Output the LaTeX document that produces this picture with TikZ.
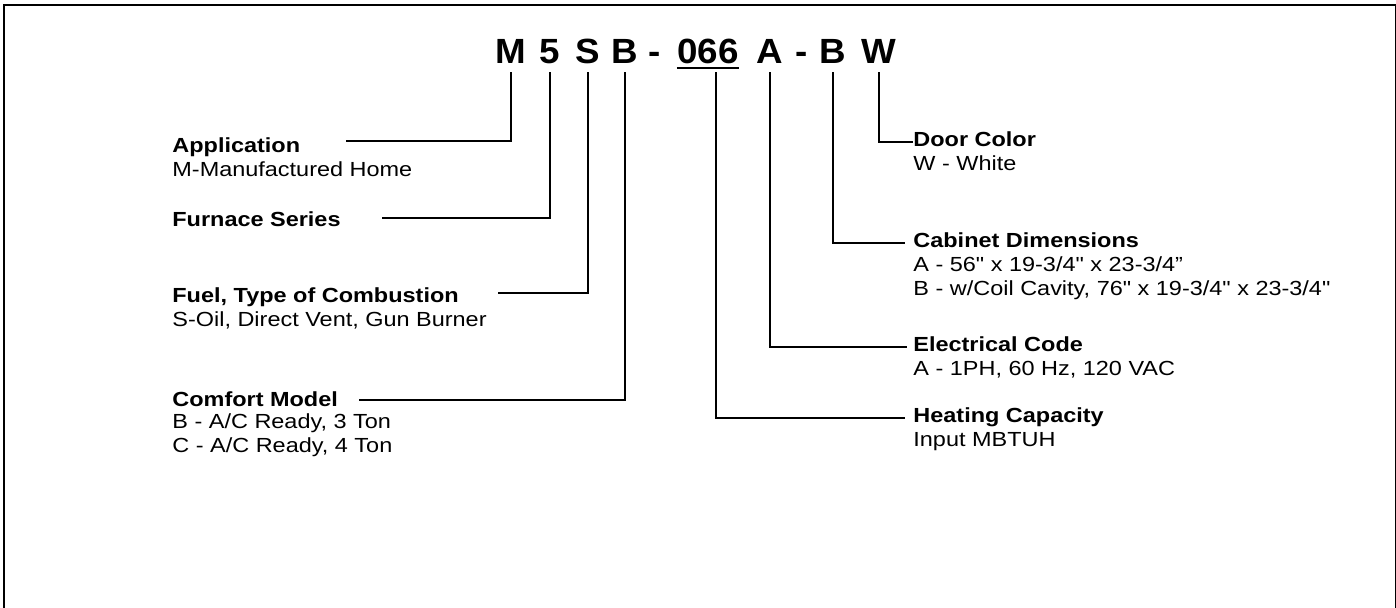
\documentclass[tikz,border=0pt]{standalone}
\usepackage{fontspec}
\setmainfont{Liberation Sans}[FakeStretch=1.15, Ligatures=TeXOff]
\newfontfamily\titlefont{Liberation Sans}[FakeStretch=1.05]
\usetikzlibrary{calc, positioning}
\tikzset{
    code/.style={font=\titlefont\bfseries\fontsize{17.5}{20}\selectfont, inner sep=0pt, text depth=0pt, outer ysep=4.5pt, anchor=base},
    head/.style={font=\bfseries\fontsize{10.2}{12}\selectfont, inner sep=0pt, text height=6pt, text depth=2pt},
    body/.style={font=\fontsize{10.2}{12}\selectfont, inner sep=0pt, align=left, anchor=base west},
    lead/.style={line width=1pt},
}
\begin{document}
\begin{tikzpicture}[x=0.5pt, y=-0.5pt]
    \useasboundingbox (0,0) rectangle (1396,607);
    \draw[line width=1pt] (4,615) -- (4,5) -- (1395.5,5) -- (1395.5,615);
    % model number
    \def \base {63}
    \node[code] (cM) at (511,\base) {M};
    \node[code] (c5) at (550,\base) {5};
    \node[code] (cS) at (588,\base) {S};
    \node[code] (cB) at (625,\base) {B};
    \node[code] (d1) at (655,\base) {-};
    \node[code] (c066) at (708,\base) {066};
    \node[code] (cA) at (770,\base) {A};
    \node[code] (d2) at (802,\base) {-};
    \node[code] (cC) at (833,\base) {B};
    \node[code] (cW) at (879,\base) {W};
    \draw[line width=0.9pt] ($(c066.base west)+(0,5)$) -- ($(c066.base east)+(0,5)$);
    \coordinate (c066b) at (716,72);
    % left side
    \node[head, anchor=base west] (app) at (172,152) {Application};
    \node[body] (appB) at ($(app.base west)+(0,24)$) {M-Manufactured Home};
    \node[head, anchor=base west] (ser) at (172,226) {Furnace Series};
    \node[head, anchor=base west] (fuel) at (172,302) {Fuel, Type of Combustion};
    \node[body] (fuelB) at ($(fuel.base west)+(0,24)$) {S-Oil, Direct Vent, Gun Burner};
    \node[head, anchor=base west] (comf) at (172,406) {Comfort Model};
    \node[body] (comfB) at ($(comf.base west)+(0,46)$) {B - A/C Ready, 3 Ton\\C - A/C Ready, 4 Ton};
    \coordinate (appEnd) at (346,141);
    \coordinate (serEnd) at (382,218);
    \coordinate (fuelEnd) at (498,293);
    \coordinate (comfEnd) at (359,400);
    % right side
    \node[head, anchor=west] (door) at (913,142) {Door Color};
    \node[body] (doorB) at ($(door.base west)+(0,24)$) {W - White};
    \node[head, anchor=west] (cab) at (913,243) {Cabinet Dimensions};
    \node[body] (cabB) at ($(cab.base west)+(0,48)$) {A - 56" x 19-3/4" x 23-3/4”\\B - w/Coil Cavity, 76" x 19-3/4" x 23-3/4"};
    \node[head, anchor=west] (elec) at (913,347) {Electrical Code};
    \node[body] (elecB) at ($(elec.base west)+(0,24)$) {A - 1PH, 60 Hz, 120 VAC};
    \node[head, anchor=west] (heat) at (913,418) {Heating Capacity};
    \node[body] (heatB) at ($(heat.base west)+(0,24)$) {Input MBTUH};
    % leaders
    \draw[lead] (cM.south) |- (appEnd);
    \draw[lead] (c5.south) |- (serEnd);
    \draw[lead] (cS.south) |- (fuelEnd);
    \draw[lead] (cB.south) |- (comfEnd);
    \draw[lead, shorten >=4pt] (c066b) |- (heat.west);
    \draw[lead, shorten >=3pt] (cA.south) |- (elec.west);
    \draw[lead, shorten >=4pt] (cC.south) |- (cab.west);
    \draw[lead] (cW.south) |- (door.west);
\end{tikzpicture}
\end{document}
